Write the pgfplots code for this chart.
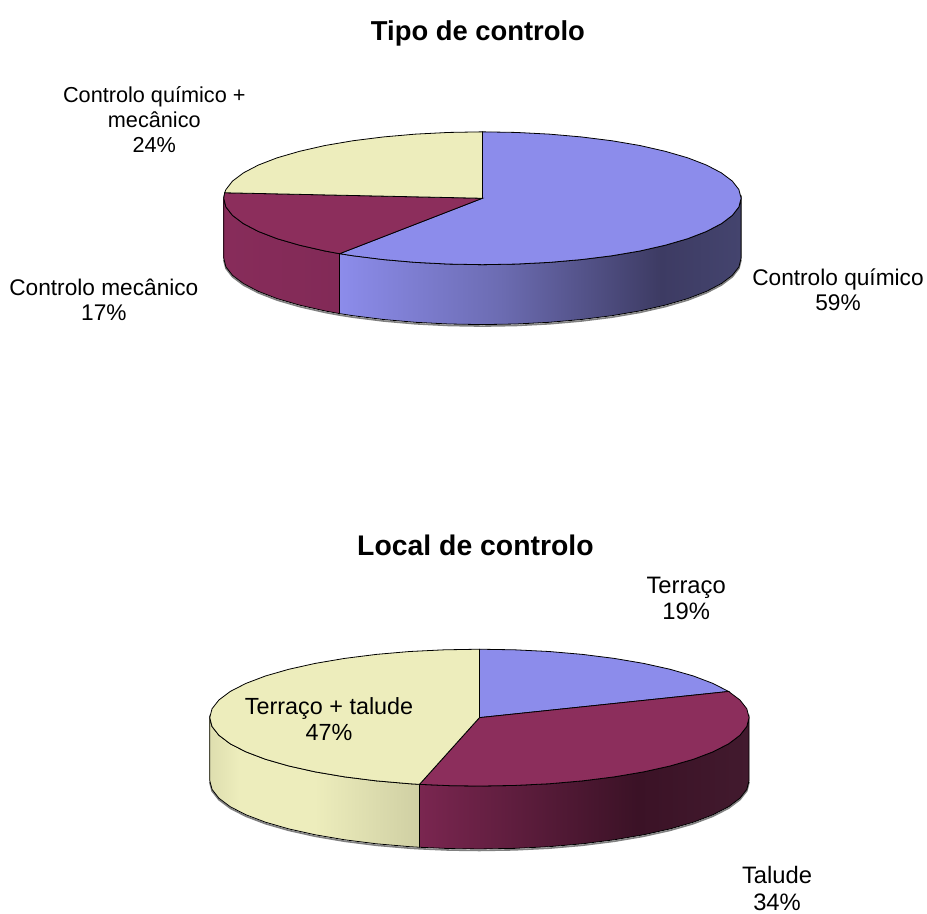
\documentclass[border=0pt]{standalone}
\usepackage{pgfplots}
\pgfplotsset{compat=1.18}
\usepackage{fontspec}
\setmainfont{Liberation Sans}
\definecolor{pblue}{RGB}{140,140,235}
\definecolor{pmar}{RGB}{140,46,92}
\definecolor{pcream}{RGB}{237,237,188}
\definecolor{b1}{RGB}{140,140,235}
\definecolor{b2}{RGB}{108,108,178}
\definecolor{b3}{RGB}{61,59,99}
\definecolor{b4}{RGB}{68,68,110}
\definecolor{m1}{RGB}{122,38,80}
\definecolor{m2}{RGB}{59,18,38}
\definecolor{m3}{RGB}{66,26,46}
\definecolor{c1}{RGB}{222,222,175}
\definecolor{c2}{RGB}{237,237,188}
\definecolor{c3}{RGB}{207,207,163}
\definecolor{l1}{RGB}{135,44,90}
\definecolor{l2}{RGB}{130,42,87}
\pgfdeclarehorizontalshading{bluewall}{100bp}{color(0bp)=(b1); color(25bp)=(b1); color(45bp)=(b2); color(65bp)=(b3); color(75bp)=(b4); color(100bp)=(b4)}
\pgfdeclarehorizontalshading{marwall}{100bp}{color(0bp)=(m1); color(25bp)=(m1); color(58bp)=(m2); color(75bp)=(m3); color(100bp)=(m3)}
\pgfdeclarehorizontalshading{creamwall}{100bp}{color(0bp)=(c1); color(25bp)=(c1); color(32bp)=(c2); color(50bp)=(c2); color(75bp)=(c3); color(100bp)=(c3)}
\pgfdeclarehorizontalshading{leftwall}{100bp}{color(0bp)=(l1); color(25bp)=(l1); color(75bp)=(l2); color(100bp)=(l2)}
\begin{document}
\begin{tikzpicture}
\begin{axis}[hide axis, scale only axis, width=927pt, height=911pt,
  xmin=0, xmax=927, ymin=0, ymax=911, y dir=reverse, clip=false]
\path (rel axis cs:0,0) -- (rel axis cs:1,1);
% --- top chart: shadows
\addplot[no marks, draw=gray, line width=1.6pt] coordinates {(224,260) (226.2,268.7) (232.8,277.2) (243.7,285.4) (258.7,293.2) (277.5,300.5) (299.9,307) (325.3,312.8) (340,315.5) (353.5,317.6) (383.9,321.4) (415.9,324.2) (449.2,325.9) (483,326.5) (516.8,325.9) (550.1,324.2) (582.1,321.4) (612.5,317.6) (640.7,312.8) (666.1,307) (688.5,300.5) (707.3,293.2) (722.3,285.4) (733.2,277.2) (739.8,268.7) (742,260)};
% blue wall
\addplot[no marks, draw=black, line width=0.8pt, shade, shading=bluewall] coordinates {(742,198.5) (739.8,207.2) (733.2,215.7) (722.3,223.9) (707.3,231.75) (688.5,239) (666.1,245.5) (640.7,251.3) (612.5,256.1) (582.1,259.9) (550.1,262.7) (516.8,264.4) (483,265) (449.2,264.4) (415.9,262.7) (383.9,259.9) (353.5,256.1) (340,254)
 (340,314) (353.5,316.1) (383.9,319.9) (415.9,322.7) (449.2,324.4) (483,325) (516.8,324.4) (550.1,322.7) (582.1,319.9) (612.5,316.1) (640.7,311.3) (666.1,305.5) (688.5,299) (707.3,291.75) (722.3,283.9) (733.2,275.7) (739.8,267.2) (742,258.5)} --cycle;
% maroon wall
\addplot[no marks, draw=black, line width=0.8pt, shade, shading=leftwall] coordinates {(340,254) (325.3,251.3) (299.9,245.5) (277.5,239) (258.7,231.75) (243.7,223.9) (232.8,215.7) (226.2,207.2) (224,198.5)
 (224,258.5) (226.2,267.2) (232.8,275.7) (243.7,283.9) (258.7,291.75) (277.5,299) (299.9,305.5) (325.3,311.3) (340,314)} --cycle;
% top faces
\addplot[no marks, draw=black, line width=0.8pt, fill=pblue] coordinates {(483,198.5) (483,132) (516.8,132.6) (550.1,134.3) (582.1,137.1) (612.5,140.9) (640.7,145.7) (666.1,151.5) (688.5,158) (707.3,165.25) (722.3,173.1) (733.2,181.3) (739.8,189.8) (742,198.5) (739.8,207.2) (733.2,215.7) (722.3,223.9) (707.3,231.75) (688.5,239) (666.1,245.5) (640.7,251.3) (612.5,256.1) (582.1,259.9) (550.1,262.7) (516.8,264.4) (483,265) (449.2,264.4) (415.9,262.7) (383.9,259.9) (353.5,256.1) (340,254)} --cycle;
\addplot[no marks, draw=black, line width=0.8pt, fill=pmar] coordinates {(483,198.5) (340,254) (325.3,251.3) (299.9,245.5) (277.5,239) (258.7,231.75) (243.7,223.9) (232.8,215.7) (226.2,207.2) (224,198.5) (224.9,193)} --cycle;
\addplot[no marks, draw=black, line width=0.8pt, fill=pcream] coordinates {(483,198.5) (224.9,193) (226.2,189.8) (232.8,181.3) (243.7,173.1) (258.7,165.25) (277.5,158) (299.9,151.5) (325.3,145.7) (353.5,140.9) (383.9,137.1) (415.9,134.3) (449.2,132.6) (483,132)} --cycle;
% --- bottom chart: shadow
\addplot[no marks, draw=gray, line width=1.6pt] coordinates {(210,783) (212.3,791.9) (219.2,800.7) (230.5,809.2) (246.2,817.25) (265.8,824.7) (289.1,831.4) (315.6,837.3) (345,842.3) (376.7,846.3) (410.1,849.2) (420,849.8) (450,851.1) (480,851.5) (515.2,850.9) (549.9,849.2) (583.3,846.3) (615,842.3) (644.4,837.3) (670.9,831.4) (694.2,824.7) (713.8,817.25) (729.5,809.2) (740.8,800.7) (747.7,791.9) (750,783)};
% maroon wall
\addplot[no marks, draw=black, line width=0.8pt, shade, shading=marwall] coordinates {(750,718.5) (747.7,727.4) (740.8,736.2) (729.5,744.7) (713.8,752.75) (694.2,760.2) (670.9,766.9) (644.4,772.8) (615,777.8) (583.3,781.8) (549.9,784.7) (515.2,786.4) (480,787) (450,786.6) (420,785.3)
 (420,848.3) (450,849.6) (480,850) (515.2,849.4) (549.9,847.7) (583.3,844.8) (615,840.8) (644.4,835.8) (670.9,829.9) (694.2,823.2) (713.8,815.75) (729.5,807.7) (740.8,799.2) (747.7,790.4) (750,781.5)} --cycle;
% cream wall
\addplot[no marks, draw=black, line width=0.8pt, shade, shading=creamwall] coordinates {(420,785.3) (410.1,784.7) (376.7,781.8) (345,777.8) (315.6,772.8) (289.1,766.9) (265.8,760.2) (246.2,752.75) (230.5,744.7) (219.2,736.2) (212.3,727.4) (210,718.5)
 (210,781.5) (212.3,790.4) (219.2,799.2) (230.5,807.7) (246.2,815.75) (265.8,823.2) (289.1,829.9) (315.6,835.8) (345,840.8) (376.7,844.8) (410.1,847.7) (420,848.3)} --cycle;
% top faces
\addplot[no marks, draw=black, line width=0.8pt, fill=pblue] coordinates {(480,718.5) (480,650) (515.2,650.6) (549.9,652.3) (583.3,655.2) (615,659.2) (644.4,664.2) (670.9,670.1) (694.2,676.8) (713.8,684.25) (729.5,692.3)} --cycle;
\addplot[no marks, draw=black, line width=0.8pt, fill=pmar] coordinates {(480,718.5) (729.5,692.3) (740.8,700.8) (747.7,709.6) (750,718.5) (747.7,727.4) (740.8,736.2) (729.5,744.7) (713.8,752.75) (694.2,760.2) (670.9,766.9) (644.4,772.8) (615,777.8) (583.3,781.8) (549.9,784.7) (515.2,786.4) (480,787) (450,786.6) (420,785.3)} --cycle;
\addplot[no marks, draw=black, line width=0.8pt, fill=pcream] coordinates {(480,718.5) (420,785.3) (410.1,784.7) (376.7,781.8) (345,777.8) (315.6,772.8) (289.1,766.9) (265.8,760.2) (246.2,752.75) (230.5,744.7) (219.2,736.2) (212.3,727.4) (210,718.5) (212.3,709.6) (219.2,700.8) (230.5,692.3) (246.2,684.25) (265.8,676.8) (289.1,670.1) (315.6,664.2) (345,659.2) (376.7,655.2) (410.1,652.3) (444.8,650.6) (480,650)} --cycle;
% --- text
\node[font=\fontsize{27.4}{32}\selectfont\bfseries] at (axis cs:478.5,33.5) {Tipo de controlo};
\node[font=\fontsize{28.4}{32}\selectfont\bfseries] at (axis cs:476,546) {Local de controlo};
\node[font=\fontsize{21.7}{25}\selectfont, align=center] at (axis cs:154.5,120) {Controlo químico +\\mecânico\\24\%};
\node[font=\fontsize{22.7}{25.5}\selectfont, align=center] at (axis cs:104,300) {Controlo mecânico\\17\%};
\node[font=\fontsize{22.7}{25.5}\selectfont, align=center] at (axis cs:839,290) {Controlo químico\\59\%};
\node[font=\fontsize{23.8}{26.5}\selectfont, align=center] at (axis cs:687,599) {Terraço\\19\%};
\node[font=\fontsize{23.4}{26}\selectfont, align=center] at (axis cs:329.5,719.5) {Terraço + talude\\47\%};
\node[font=\fontsize{23.8}{26.5}\selectfont, align=center] at (axis cs:778,889.5) {Talude\\34\%};
\end{axis}
\end{tikzpicture}
\end{document}
